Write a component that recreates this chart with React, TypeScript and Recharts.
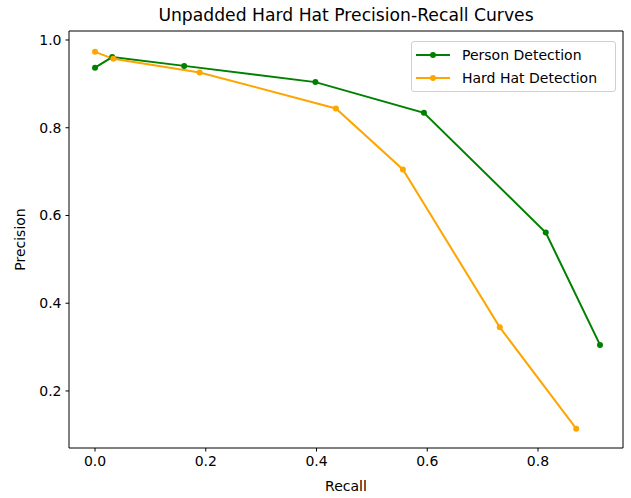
import { LineChart, Line, XAxis, YAxis, Legend, Label, CartesianGrid } from "recharts";

const personRecall = [0.0, 0.031, 0.161, 0.398, 0.594, 0.814, 0.912];
const personPrecision = [0.937, 0.961, 0.941, 0.904, 0.834, 0.561, 0.305];
const hatRecall = [0.0, 0.033, 0.189, 0.435, 0.556, 0.731, 0.869];
const hatPrecision = [0.973, 0.957, 0.926, 0.844, 0.705, 0.345, 0.114];

const xTicks = [0, 0.2, 0.4, 0.6, 0.8];
const yTicks = [0.2, 0.4, 0.6, 0.8, 1.0];

const GREEN = "#008000";
const ORANGE = "#ffa500";
const FONT = "'DejaVu Sans', sans-serif";

const personData = personRecall.map((r, i) => ({ recall: r, person: personPrecision[i] }));
const hatData = hatRecall.map((r, i) => ({ recall: r, hat: hatPrecision[i] }));

const X_DOMAIN: [number, number] = [-0.047, 0.9535];
const Y_DOMAIN: [number, number] = [0.07, 1.0205];

function LegendBox() {
  const items = [
    { name: "Person Detection", color: GREEN },
    { name: "Hard Hat Detection", color: ORANGE },
  ];
  return (
    <div
      style={{
        position: "absolute",
        left: 411,
        top: 41,
        width: 203,
        height: 49,
        border: "1px solid #d0d0d0",
        borderRadius: 3,
        background: "rgba(255,255,255,0.8)",
        fontFamily: FONT,
        fontSize: 14,
        color: "#000",
      }}
    >
      {items.map((it, i) => (
        <div key={it.name} style={{ position: "absolute", left: 0, top: 3 + i * 22.7, height: 20, display: "flex", alignItems: "center" }}>
          <svg width={50} height={20} style={{ display: "block" }}>
            <line x1={4} y1={10} x2={38} y2={10} stroke={it.color} strokeWidth={2} />
            <circle cx={21} cy={10} r={3} fill={it.color} />
          </svg>
          <span style={{ whiteSpace: "nowrap" }}>{it.name}</span>
        </div>
      ))}
    </div>
  );
}

export default function App() {
  return (
    <div style={{ position: "absolute", left: 0, top: 0, width: 631, height: 498, background: "#fff" }}>
      <div
        style={{
          position: "absolute",
          left: 0,
          width: 692,
          top: 5,
          textAlign: "center",
          fontFamily: FONT,
          fontSize: 17.2,
          color: "#000",
          whiteSpace: "nowrap",
        }}
      >
        Unpadded Hard Hat Precision-Recall Curves
      </div>
      <LineChart width={631} height={498} margin={{ top: 31, right: 8, bottom: 0, left: 0 }}>
        <CartesianGrid
          horizontalValues={[Y_DOMAIN[1]]}
          verticalValues={[X_DOMAIN[1]]}
          stroke="#000"
          strokeOpacity={1}
          strokeWidth={1}
          syncWithTicks={false}
        />
        <XAxis
          type="number"
          dataKey="recall"
          domain={X_DOMAIN}
          ticks={xTicks}
          allowDataOverflow
          height={50}
          tickFormatter={(v) => Number(v).toFixed(1)}
          tick={{ fill: "#000", fontSize: 14, fontFamily: FONT }}
          tickSize={3.5}
          tickMargin={5}
          stroke="#000"
        >
          <Label value="Recall" position="insideBottom" offset={7} style={{ fill: "#000", fontSize: 14, fontFamily: FONT }} />
        </XAxis>
        <YAxis
          type="number"
          domain={Y_DOMAIN}
          ticks={yTicks}
          allowDataOverflow
          width={69}
          tickFormatter={(v) => Number(v).toFixed(1)}
          tick={{ fill: "#000", fontSize: 14, fontFamily: FONT }}
          tickSize={3.5}
          tickMargin={4}
          stroke="#000"
        >
          <Label
            value="Precision"
            angle={-90}
            position="insideLeft"
            offset={20}
            style={{ fill: "#000", fontSize: 14, fontFamily: FONT, textAnchor: "middle" }}
          />
        </YAxis>
        <Line
          data={personData}
          dataKey="person"
          name="Person Detection"
          stroke={GREEN}
          strokeWidth={2}
          dot={{ r: 3, fill: GREEN, stroke: GREEN, strokeWidth: 0 }}
          isAnimationActive={false}
        />
        <Line
          data={hatData}
          dataKey="hat"
          name="Hard Hat Detection"
          stroke={ORANGE}
          strokeWidth={2}
          dot={{ r: 3, fill: ORANGE, stroke: ORANGE, strokeWidth: 0 }}
          isAnimationActive={false}
        />
        <Legend content={() => null} />
      </LineChart>
      <LegendBox />
    </div>
  );
}
